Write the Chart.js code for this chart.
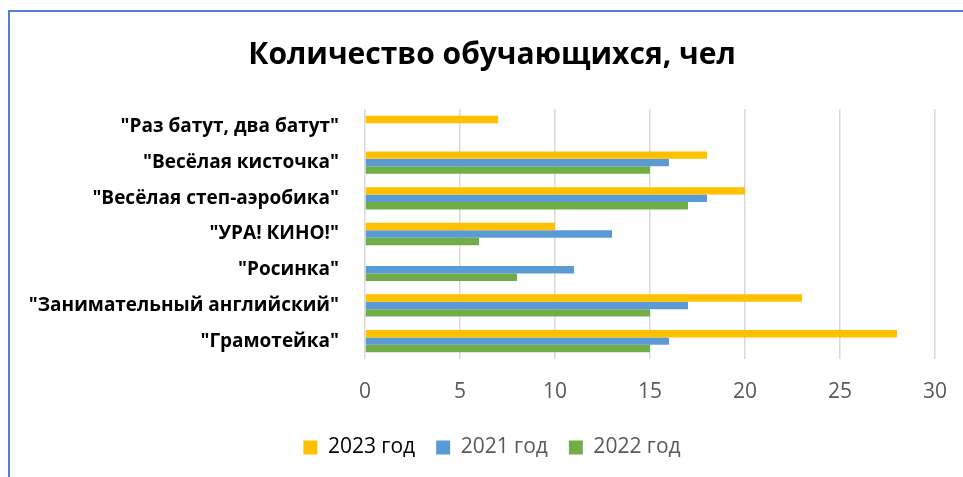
<!DOCTYPE html>
<html>
<head>
<meta charset="utf-8">
<script src="https://cdn.jsdelivr.net/npm/chart.js@4.4.1/dist/chart.umd.min.js"></script>
<style>
  body { margin: 0; background: #fff; }
  #wrap { position: relative; width: 963px; height: 477px; overflow: hidden; }
  #frame { position: absolute; left: 8px; top: 10px; right: -5px; bottom: -5px;
           border-left: 2px solid #4f7fd6; border-top: 2px solid #4f7fd6; }
  canvas { position: absolute; left: 0; top: 0; }
</style>
</head>
<body>
<div id="wrap">
  <canvas id="myChart" width="963" height="477"></canvas>
  <div id="frame"></div>
</div>
<script>
const labels = ['"Раз батут, два батут"', '"Весёлая кисточка"', '"Весёлая степ-аэробика"',
  '"УРА! КИНО!"', '"Росинка"', '"Занимательный английский"', '"Грамотейка"'];
const seriesNames = ['2023 год', '2021 год', '2022 год'];
const values2023 = [7, 18, 20, 10, 0, 23, 28];
const values2021 = [0, 16, 18, 13, 11, 17, 16];
const values2022 = [0, 15, 17, 6, 8, 15, 15];
const xTicks = [0, 5, 10, 15, 20, 25, 30];

const font = "'Open Sans', 'Noto Sans', sans-serif";

const ctx = document.getElementById('myChart');
const myChart = new Chart(ctx, {
    type: 'bar',
    data: {
        labels: labels,
        datasets: [
            { label: seriesNames[0], data: values2023, backgroundColor: '#FFC000' },
            { label: seriesNames[1], data: values2021, backgroundColor: '#5B9BD5' },
            { label: seriesNames[2], data: values2022, backgroundColor: '#70AD47' }
        ]
    },
    options: {
        indexAxis: 'y',
        responsive: false,
        animation: false,
        categoryPercentage: 0.625,
        barPercentage: 1,
        layout: { padding: { left: 21, right: 0, top: 0, bottom: 9 } },
        scales: {
            x: {
                min: 0, max: 30,
                afterBuildTicks: axis => { axis.ticks = xTicks.map(v => ({ value: v })); },
                afterFit: axis => { axis.height = 57; axis.paddingRight = 0; },
                grid: { color: '#d9d9d9', lineWidth: 1.5, drawTicks: false },
                border: { display: false },
                ticks: { color: '#595959', font: { family: font, size: 21 }, padding: 20 }
            },
            y: {
                grid: { display: false },
                border: { display: false },
                afterFit: axis => { axis.width = 344; },
                ticks: { color: '#000', font: { family: font, size: 19, weight: 'bold' }, padding: 18 }
            },
            yRight: {
                type: 'category',
                position: 'right',
                grid: { display: false },
                border: { display: false },
                ticks: { display: false },
                afterFit: axis => { axis.width = 28; }
            }
        },
        plugins: {
            title: {
                display: true,
                text: 'Количество обучающихся, чел',
                color: '#000',
                font: { family: font, size: 30, weight: 'bold' },
                padding: { top: 37, bottom: 36 }
            },
            legend: {
                position: 'bottom',
                labels: {
                    boxWidth: 14, boxHeight: 14, padding: 21,
                    color: '#595959',
                    font: { family: font, size: 21 },
                    generateLabels: chart => {
                        const items = Chart.defaults.plugins.legend.labels.generateLabels(chart);
                        items.forEach((it, i) => { it.fontColor = i === 0 ? '#000' : '#595959'; it.lineWidth = 0; });
                        return items;
                    }
                }
            },
            tooltip: { enabled: false }
        }
    }
});
</script>
</body>
</html>
